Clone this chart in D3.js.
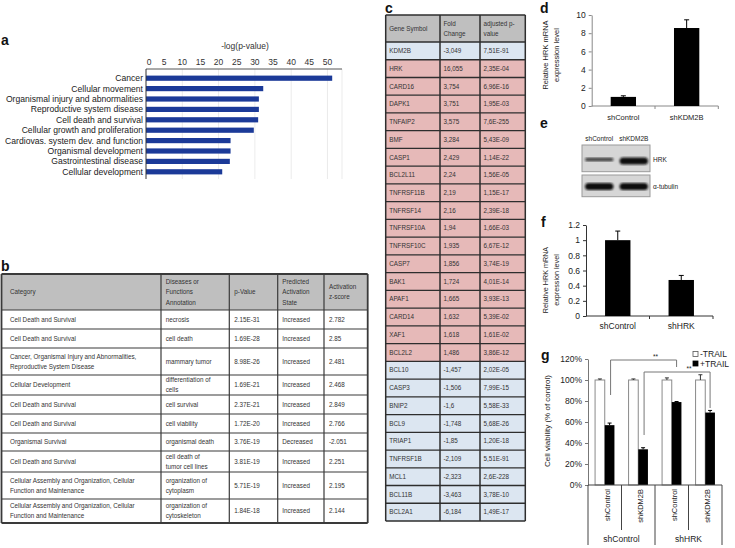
<!DOCTYPE html>
<html><head><meta charset="utf-8">
<script src="https://cdn.jsdelivr.net/npm/d3@7"></script>
<style>body{margin:0;background:#fff} svg{display:block} text{font-family:"Liberation Sans",Arial,Helvetica,sans-serif}</style>
</head><body><svg id="c" width="735" height="548"></svg>
<script>
// ---------- DATA ----------
// panel a
const aCategories = ["Cancer","Cellular movement","Organismal injury and abnormalities","Reproductive system disease","Cell death and survival","Cellular growth and proliferation","Cardiovas. system dev. and function","Organismal development","Gastrointestinal disease","Cellular development"];
const aValues = [51.3, 32.3, 31.1, 31.1, 30.9, 29.7, 23.3, 23.3, 23.1, 21.0];
const aTicks = [0,5,10,15,20,25,30,35,40,45,50];
const aTitle = "-log(p-value)";
// panel b
const bHeaders = ["Category","Diseases or\nFunctions\nAnnotation","p-Value","Predicted\nActivation\nState","Activation\nz-score"];
const bCategory = ["Cell Death and Survival","Cell Death and Survival","Cancer, Organismal Injury and Abnormalities,\nReproductive System Disease","Cellular Development","Cell Death and Survival","Cell Death and Survival","Organismal Survival","Cell Death and Survival","Cellular Assembly and Organization, Cellular\nFunction and Maintenance","Cellular Assembly and Organization, Cellular\nFunction and Maintenance"];
const bAnnotation = ["necrosis","cell death","mammary tumor","differentiation of\ncells","cell survival","cell viability","organismal death","cell death of\ntumor cell lines","organization of\ncytoplasm","organization of\ncytoskeleton"];
const bPValue = ["2.15E-31","1.69E-28","8.98E-26","1.69E-21","2.37E-21","1.72E-20","3.76E-19","3.81E-19","5.71E-19","1.84E-18"];
const bState = ["Increased","Increased","Increased","Increased","Increased","Increased","Decreased","Increased","Increased","Increased"];
const bZScore = ["2.782","2.85","2.481","2.468","2.849","2.766","-2.051","2.251","2.195","2.144"];
// panel c
const cHeaders = ["Gene Symbol","Fold\nChange","adjusted p-\nvalue"];
const cGenes = ["KDM2B","HRK","CARD16","DAPK1","TNFAIP2","BMF","CASP1","BCL2L11","TNFRSF11B","TNFRSF14","TNFRSF10A","TNFRSF10C","CASP7","BAK1","APAF1","CARD14","XAF1","BCL2L2","BCL10","CASP3","BNIP2","BCL9","TRIAP1","TNFRSF1B","MCL1","BCL11B","BCL2A1"];
const cFold = ["-3,049","16,055","3,754","3,751","3,575","3,284","2,429","2,24","2,19","2,16","1,94","1,935","1,856","1,724","1,665","1,632","1,618","1,486","-1,457","-1,506","-1,6","-1,748","-1,85","-2,109","-2,323","-3,463","-6,184"];
const cPval = ["7,51E-91","2,35E-04","6,96E-16","1,95E-03","7,6E-255","5,43E-09","1,14E-22","1,56E-05","1,15E-17","2,39E-18","1,66E-03","6,67E-12","3,74E-19","4,01E-14","3,93E-13","5,39E-02","1,61E-02","3,86E-12","2,02E-05","7,99E-15","5,58E-33","5,68E-26","1,20E-18","5,51E-91","2,6E-228","3,78E-10","1,49E-17"];
// panel d
const dGroups = ["shControl","shKDM2B"];
const dValues = [1.0, 8.57];
const dErrors = [0.12, 0.9];
const dTicks = [0,2,4,6,8,10];
// panel e (western blot band intensities)
const eLanes = ["shControl","shKDM2B"];
const eHRK = [0.35, 1.0];
const eTubulin = [1.0, 1.0];
const eProteins = ["HRK","\u03b1-tubulin"];
// panel f
const fGroups = ["shControl","shHRK"];
const fValues = [1.0, 0.475];
const fErrors = [0.12, 0.06];
const fTicks = [0,0.2,0.4,0.6,0.8,1.0,1.2];
// panel g
const gInner = ["shControl","shKDM2B","shControl","shKDM2B"];
const gOuter = ["shControl","shHRK"];
const gSeries = ["-TRAIL","+TRAIL"];
const gMinus = [100, 100, 100, 100];
const gMinusErr = [1, 1, 2, 5];
const gPlus = [57, 34, 79, 69];
const gPlusErr = [2, 1.5, 0.5, 2];
const gTicks = [0,20,40,60,80,100,120];
const gBrackets = [[0,2,"**"],[1,3,"**"]];

// ---------- DRAW ----------
const svg = d3.select("#c");
svg.append("rect").attr("width",735).attr("height",548).attr("fill","#fff");

// panel letters
[["a",1,45],["b",1,271],["c",385,13],["d",540,13],["e",540,128],["f",541,227],["g",541,360]].forEach(([t,x,y])=>{
  svg.append("text").attr("x",x).attr("y",y).text(t).attr("font-size",14).attr("font-weight","bold").attr("fill","#111");
});

// ===== Panel a =====
{
  const g = svg.append("g");
  const x = d3.scaleLinear().domain([0,54]).range([146,342]);
  const y = d3.scaleBand().domain(aCategories).range([73,177]).paddingInner(0.5).paddingOuter(0.25);
  [10,20,30,40,50,54].forEach(v=>g.append("line").attr("x1",x(v)).attr("x2",x(v)).attr("y1",69).attr("y2",179).attr("stroke","#e6e6e6").attr("stroke-width",0.8));
  g.selectAll("rect.bar").data(aCategories).join("rect")
    .attr("x",x(0)).attr("y",d=>y(d)).attr("height",y.bandwidth())
    .attr("width",(d,i)=>x(aValues[i])-x(0)).attr("fill","#1b3a98");
  g.append("line").attr("x1",146).attr("x2",342).attr("y1",69).attr("y2",69).attr("stroke","#555").attr("stroke-width",1);
  g.append("line").attr("x1",146).attr("x2",146).attr("y1",69).attr("y2",179).attr("stroke","#333").attr("stroke-width",1);
  g.selectAll("text.tk").data(aTicks).join("text").attr("x",d=>x(d)+(d===0?3:0)).attr("y",65)
    .attr("text-anchor","middle").attr("font-size",8.5).attr("fill","#333").text(d=>d);
  g.selectAll("text.cat").data(aCategories).join("text").attr("x",143).attr("y",d=>y(d)+y.bandwidth()/2+3)
    .attr("text-anchor","end").attr("font-size",8.6).attr("fill","#222").text(d=>d);
  g.append("text").attr("x",245).attr("y",49).attr("text-anchor","middle").attr("font-size",8.5).attr("fill","#333").text(aTitle);
}

function multiText(g, str, x, cy, fs, lh, anchor, color){
  const lines = str.split("\n");
  lines.forEach((l,i)=>{
    g.append("text").attr("x",x).attr("y",cy + (i-(lines.length-1)/2)*lh + fs*0.35)
      .attr("font-size",fs).attr("fill",color||"#333").attr("text-anchor",anchor||"start").text(l);
  });
}

// ===== Panel b =====
{
  const g = svg.append("g");
  const colX = [1.5, 161, 229.3, 277.7, 324, 367.7];
  const pad = [8.5, 4.7, 5, 4.6, 5];
  const rowH = [19,19,27,20,19,19,18,21,27,24];
  const top = 274, headH = 36;
  const ys = [top, top+headH];
  rowH.forEach(h=>ys.push(ys[ys.length-1]+h));
  g.append("rect").attr("x",colX[0]).attr("y",top).attr("width",colX[5]-colX[0]).attr("height",headH).attr("fill","#bfbfbf");
  const rows = bCategory.map((c,i)=>[c,bAnnotation[i],bPValue[i],bState[i],bZScore[i]]);
  bHeaders.forEach((h,j)=>multiText(g,h,colX[j]+pad[j],top+headH/2,6.3,10.3,"start","#333"));
  rows.forEach((r,i)=>{
    const cy = (ys[i+1]+ys[i+2])/2;
    r.forEach((t,j)=>multiText(g,t,colX[j]+pad[j],cy,6.3,9.8,"start","#333"));
  });
  ys.forEach((yy,i)=>g.append("line").attr("x1",colX[0]).attr("x2",colX[5]).attr("y1",yy).attr("y2",yy)
    .attr("stroke","#3a3a3a").attr("stroke-width",(i===0||i===ys.length-1)?1.8:1.2));
  colX.forEach((xx,i)=>g.append("line").attr("x1",xx).attr("x2",xx).attr("y1",top).attr("y2",ys[ys.length-1])
    .attr("stroke","#3a3a3a").attr("stroke-width",(i===0||i===colX.length-1)?1.8:1.2));
}

// ===== Panel c =====
{
  const g = svg.append("g");
  const colX = [385.7, 440, 480, 525.3];
  const top = 15, headBot = 42, bottom = 521;
  const y = d3.scaleBand().domain(cGenes).range([headBot,bottom]);
  g.append("rect").attr("x",colX[0]).attr("y",top).attr("width",colX[3]-colX[0]).attr("height",headBot-top).attr("fill","#bfbfbf");
  g.selectAll("rect.row").data(cGenes).join("rect").attr("x",colX[0]).attr("y",d=>y(d))
    .attr("width",colX[3]-colX[0]).attr("height",y.bandwidth())
    .attr("fill",(d,i)=>parseFloat(cFold[i].replace(",","."))>0?"#e6b9b8":"#dce6f1");
  cHeaders.forEach((h,j)=>multiText(g,h,colX[j]+3.5,(top+headBot)/2,6.3,10,"start","#333"));
  cGenes.forEach((gn,i)=>{
    const cy = y(gn)+y.bandwidth()/2;
    [gn,cFold[i],cPval[i]].forEach((t,j)=>multiText(g,t,colX[j]+3.5,cy,6.3,10,"start","#333"));
  });
  const ys = [top].concat(cGenes.map(d=>y(d)), [bottom]);
  ys.forEach(yy=>g.append("line").attr("x1",colX[0]).attr("x2",colX[3]).attr("y1",yy).attr("y2",yy).attr("stroke","#2e2e2e").attr("stroke-width",1.3));
  colX.forEach(xx=>g.append("line").attr("x1",xx).attr("x2",xx).attr("y1",top).attr("y2",bottom).attr("stroke","#2e2e2e").attr("stroke-width",1.5));
}

function errBar(g,x,y0,y1,w,color){
  g.append("line").attr("x1",x).attr("x2",x).attr("y1",y0).attr("y2",y1).attr("stroke",color).attr("stroke-width",1);
  g.append("line").attr("x1",x-w/2).attr("x2",x+w/2).attr("y1",y1).attr("y2",y1).attr("stroke",color).attr("stroke-width",1);
}
function rotLabel(g, lines, xs, cy, fs){
  lines.forEach((l,i)=>g.append("text").attr("transform",`translate(${xs[i]},${cy}) rotate(-90)`)
    .attr("text-anchor","middle").attr("font-size",fs).attr("fill","#222").text(l));
}

// ===== Panel d =====
{
  const g = svg.append("g");
  const y = d3.scaleLinear().domain([0,10]).range([106,15]);
  const x = d3.scaleBand().domain(dGroups).range([591.7,718.3]).paddingInner(0.6).paddingOuter(0.3);
  const axY = g.append("g").attr("transform","translate(591.7,0)").call(d3.axisLeft(y).tickValues(dTicks).tickSize(3).tickSizeOuter(0).tickPadding(3));
  axY.selectAll("text").attr("font-size",8.5).attr("fill","#222").attr("font-family",null);
  axY.selectAll("line,path").attr("stroke","#888");
  g.append("line").attr("x1",591.7).attr("x2",718.3).attr("y1",106).attr("y2",106).attr("stroke","#888");
  [1,2].forEach(i=>{const xx=591.7+i*x.step(); g.append("line").attr("x1",xx).attr("x2",xx).attr("y1",106).attr("y2",109).attr("stroke","#888");});
  dGroups.forEach((d,i)=>{
    g.append("rect").attr("x",x(d)).attr("y",y(dValues[i])).attr("width",x.bandwidth()).attr("height",y(0)-y(dValues[i])).attr("fill","#000");
    errBar(g,x(d)+x.bandwidth()/2,y(dValues[i]),y(dValues[i]+dErrors[i]),5,"#000");
    g.append("text").attr("x",x(d)+x.bandwidth()/2).attr("y",120).attr("text-anchor","middle").attr("font-size",7.5).attr("fill","#222").text(d);
  });
  rotLabel(g,["Relative HRK mRNA","expression level"],[547.5,558.5],55,7.5);
}

// ===== Panel e =====
{
  const g = svg.append("g");
  const defs = svg.append("defs");
  defs.append("filter").attr("id","blur").append("feGaussianBlur").attr("stdDeviation",0.9);
  const x = d3.scaleBand().domain(eLanes).range([584,649]).paddingInner(0.12);
  eLanes.forEach(l=>g.append("text").attr("x",x(l)+x.bandwidth()/2).attr("y",141).attr("text-anchor","middle").attr("font-size",6.5).attr("fill","#222").text(l));
  const boxes = [[145,171.7,eHRK,159.5],[175,196.7,eTubulin,186.5]];
  boxes.forEach(([y0,y1,vals,cy],k)=>{
    g.append("rect").attr("x",582).attr("y",y0).attr("width",68).attr("height",y1-y0).attr("fill","#d6d6d6").attr("stroke","#9a9a9a").attr("stroke-width",1);
    eLanes.forEach((l,i)=>{
      const h = 2.5 + 4.5*vals[i];
      g.append("rect").attr("x",x(l)+1).attr("y",cy-h/2+(k===0&&i===1?1.5:0)).attr("width",x.bandwidth()-2).attr("height",h).attr("rx",h/2)
        .attr("fill","#111").attr("opacity",0.55+0.45*vals[i]).attr("filter","url(#blur)");
    });
    g.append("text").attr("x",653).attr("y",cy+2.5).attr("font-size",6.5).attr("fill","#222").text(eProteins[k]);
  });
}

// ===== Panel f =====
{
  const g = svg.append("g");
  const y = d3.scaleLinear().domain([0,1.2]).range([316,225]);
  const x = d3.scaleBand().domain(fGroups).range([586,713]).paddingInner(0.6).paddingOuter(0.3);
  const axY = g.append("g").attr("transform","translate(586,0)").call(d3.axisLeft(y).tickValues(fTicks).tickFormat(d3.format("~g")).tickSize(3).tickSizeOuter(0).tickPadding(3));
  axY.selectAll("text").attr("font-size",8.5).attr("fill","#222").attr("font-family",null);
  axY.selectAll("line,path").attr("stroke","#333");
  g.append("line").attr("x1",586).attr("x2",713).attr("y1",316).attr("y2",316).attr("stroke","#333");
  [1,2].forEach(i=>{const xx=586+i*x.step(); g.append("line").attr("x1",xx).attr("x2",xx).attr("y1",316).attr("y2",319).attr("stroke","#333");});
  fGroups.forEach((d,i)=>{
    g.append("rect").attr("x",x(d)).attr("y",y(fValues[i])).attr("width",x.bandwidth()).attr("height",y(0)-y(fValues[i])).attr("fill","#000");
    errBar(g,x(d)+x.bandwidth()/2,y(fValues[i]),y(fValues[i]+fErrors[i]),5,"#000");
    g.append("text").attr("x",x(d)+x.bandwidth()/2).attr("y",329).attr("text-anchor","middle").attr("font-size",8.5).attr("fill","#222").text(d);
  });
  rotLabel(g,["Relative HRK mRNA","expression level"],[548,558.5],280,7.2);
}

// ===== Panel g =====
{
  const g = svg.append("g");
  const y = d3.scaleLinear().domain([0,120]).range([485,359]);
  const idx = gInner.map((d,i)=>i);
  const x = d3.scaleBand().domain(idx).range([588,722]);
  const xs = d3.scaleBand().domain(gSeries).range([0,x.step()]).paddingInner(0).paddingOuter(0.73);
  const axY = g.append("g").attr("transform","translate(588,0)").call(d3.axisLeft(y).tickValues(gTicks).tickFormat(d=>d+"%").tickSize(3).tickSizeOuter(0).tickPadding(3));
  axY.selectAll("text").attr("font-size",8.5).attr("fill","#222").attr("font-family",null);
  axY.selectAll("line,path").attr("stroke","#777");
  idx.forEach(i=>{
    const xm = x(i)+xs("-TRAIL"), xp = x(i)+xs("+TRAIL"), bw = xs.bandwidth();
    g.append("rect").attr("x",xm).attr("y",y(gMinus[i])).attr("width",bw).attr("height",y(0)-y(gMinus[i])).attr("fill","#fff").attr("stroke","#8a8a8a").attr("stroke-width",1);
    errBar(g,xm+bw/2,y(gMinus[i]),y(gMinus[i]+gMinusErr[i]),4,"#333");
    g.append("rect").attr("x",xp).attr("y",y(gPlus[i])).attr("width",bw).attr("height",y(0)-y(gPlus[i])).attr("fill","#000");
    errBar(g,xp+bw/2,y(gPlus[i]),y(gPlus[i]+gPlusErr[i]),4,"#000");
    g.append("text").attr("transform",`translate(${x(i)+x.step()/2+5},489) rotate(-90)`).attr("text-anchor","end").attr("font-size",7.5).attr("fill","#222").text(gInner[i]);
  });
  // brackets
  const legDrop = [[395,367],[435,408]];
  const bY = [360,372];
  gBrackets.forEach(([a,b,t],k)=>{
    const xa = x(a)+xs("+TRAIL")+xs.bandwidth()/2+1, xb = x(b)+xs("+TRAIL")+xs.bandwidth()/2;
    g.append("path").attr("d",`M${xa},${legDrop[k][0]}V${bY[k]}H${xb}V${legDrop[k][1]}`).attr("fill","none").attr("stroke","#777").attr("stroke-width",1);
    g.append("text").attr("x",xa+0.68*(xb-xa)).attr("y",bY[k]-1.5).attr("text-anchor","middle").attr("font-size",6.5).attr("fill","#222").text(t);
  });
  // axis & separators
  g.append("line").attr("x1",588).attr("x2",722).attr("y1",485).attr("y2",485).attr("stroke","#444");
  [0,1,2,3,4].forEach(i=>{
    const xx = 588 + i*x.step();
    g.append("line").attr("x1",xx).attr("x2",xx).attr("y1",485).attr("y2",i%2===0?545:530).attr("stroke","#444");
  });
  gOuter.forEach((o,k)=>g.append("text").attr("x",588+(2*k+1)*x.step()).attr("y",542).attr("text-anchor","middle").attr("font-size",8.5).attr("fill","#222").text(o));
  // legend
  gSeries.forEach((s,k)=>{
    g.append("rect").attr("x",693).attr("y",354+k*9.5-2.5).attr("width",5).attr("height",5).attr("fill",k===0?"#fff":"#000").attr("stroke",k===0?"#555":"#000").attr("stroke-width",0.8);
    g.append("text").attr("x",700).attr("y",354+k*9.5+3).attr("font-size",8.5).attr("fill","#222").text(s);
  });
  rotLabel(g,["Cell viability (% of control)"],[549.5],421,8);
}
</script></body></html>
